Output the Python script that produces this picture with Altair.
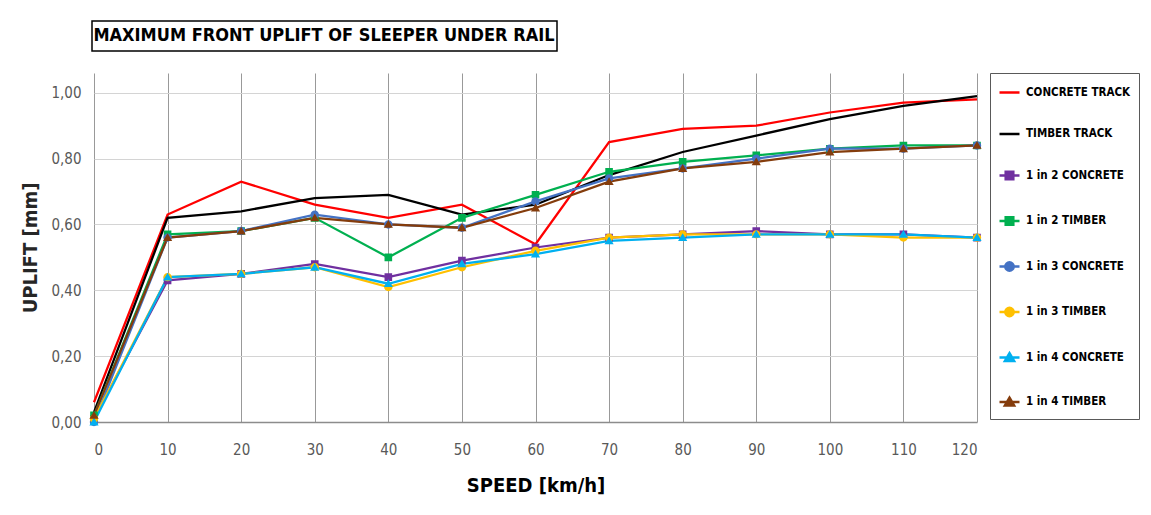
import altair as alt
import pandas as pd

# ---------------- data ----------------
speeds = [0, 10, 20, 30, 40, 50, 60, 70, 80, 90, 100, 110, 120]

series_names = [
    "CONCRETE TRACK", "TIMBER TRACK",
    "1 in 2 CONCRETE", "1 in 2 TIMBER",
    "1 in 3 CONCRETE", "1 in 3 TIMBER",
    "1 in 4 CONCRETE", "1 in 4 TIMBER",
]

concrete_track = [0.06, 0.63, 0.73, 0.66, 0.62, 0.66, 0.54, 0.85, 0.89, 0.90, 0.94, 0.97, 0.98]
timber_track = [0.03, 0.62, 0.64, 0.68, 0.69, 0.63, 0.66, 0.75, 0.82, 0.87, 0.92, 0.96, 0.99]
one_in_2_concrete = [0.01, 0.43, 0.45, 0.48, 0.44, 0.49, 0.53, 0.56, 0.57, 0.58, 0.57, 0.57, 0.56]
one_in_2_timber = [0.02, 0.57, 0.58, 0.62, 0.50, 0.62, 0.69, 0.76, 0.79, 0.81, 0.83, 0.84, 0.84]
one_in_3_concrete = [0.00, 0.56, 0.58, 0.63, 0.60, 0.59, 0.67, 0.74, 0.77, 0.80, 0.83, 0.83, 0.84]
one_in_3_timber = [0.01, 0.44, 0.45, 0.47, 0.41, 0.47, 0.52, 0.56, 0.57, 0.57, 0.57, 0.56, 0.56]
one_in_4_concrete = [0.00, 0.44, 0.45, 0.47, 0.42, 0.48, 0.51, 0.55, 0.56, 0.57, 0.57, 0.57, 0.56]
one_in_4_timber = [0.02, 0.56, 0.58, 0.62, 0.60, 0.59, 0.65, 0.73, 0.77, 0.79, 0.82, 0.83, 0.84]

series_values = [
    concrete_track, timber_track,
    one_in_2_concrete, one_in_2_timber,
    one_in_3_concrete, one_in_3_timber,
    one_in_4_concrete, one_in_4_timber,
]

y_ticks = [0.0, 0.2, 0.4, 0.6, 0.8, 1.0]
chart_title = "MAXIMUM FRONT UPLIFT OF SLEEPER UNDER RAIL"
x_title = "SPEED [km/h]"
y_title = "UPLIFT [mm]"

# ---------------- styles ----------------
colors = ["#FF0000", "#000000", "#7030A0", "#00B050",
          "#4472C4", "#FFC000", "#00B0F0", "#843C0C"]
marker_kinds = ["none", "none", "square", "square",
                "circle", "circle", "triangle", "triangle"]
LINE = "M-1,0H1"
paths = {
    "none": LINE,
    "square": LINE + "M-0.38,-0.38H0.38V0.38H-0.38Z",
    "circle": LINE + "M-0.42,0A0.42,0.42,0,1,0,0.42,0A0.42,0.42,0,1,0,-0.42,0Z",
    "triangle": LINE + "M0,-0.44L0.46,0.34L-0.46,0.34Z",
}
shapes = [paths[k] for k in marker_kinds]
marker_series = [n for n, k in zip(series_names, marker_kinds) if k != "none"]

FONT = "DejaVu Sans Condensed, Liberation Sans Narrow, Liberation Sans, sans-serif"

rows = []
for name, vals in zip(series_names, series_values):
    for s, v in zip(speeds, vals):
        rows.append({"series": name, "speed": s, "uplift": v})
df = pd.DataFrame(rows)

color_scale = alt.Scale(domain=series_names, range=colors)
shape_scale = alt.Scale(domain=series_names, range=shapes)

legend = alt.Legend(
    title=None, orient="none", legendX=896, legendY=0,
    padding=8, strokeColor="#595959", fillColor="white",
    labelFont=FONT, labelFontSize=11.5, labelFontWeight="bold", labelColor="black",
    labelOffset=5, symbolSize=400, symbolStrokeWidth=2.5, rowPadding=24.5,
    symbolOpacity=1, labelLimit=200,
)

x_enc = alt.X(
    "speed:Q",
    scale=alt.Scale(domain=[0, 120], nice=False, zero=False),
    axis=alt.Axis(
        values=speeds, title=x_title, grid=True, gridColor="#999999", gridWidth=1,
        domainColor="#8c8c8c", domainWidth=1.5, ticks=False,
        labelColor="#595959", labelFont=FONT, labelFontSize=15, labelPadding=20,
        titleFont=FONT, titleFontSize=20, titleFontWeight="bold", titleColor="black",
        titlePadding=18,
    ),
)
y_enc = alt.Y(
    "uplift:Q",
    scale=alt.Scale(domain=[0, 1.06], nice=False),
    axis=alt.Axis(
        values=y_ticks, title=y_title, grid=True, gridColor="#d4d4d4", gridWidth=1,
        domain=False, ticks=False,
        labelExpr="replace(format(datum.value, '.2f'), '.', ',')",
        labelColor="#595959", labelFont=FONT, labelFontSize=15, labelPadding=13,
        titleFont=FONT, titleFontSize=20, titleFontWeight="bold", titleColor="#262626",
        titlePadding=10,
    ),
)

lines = alt.Chart(df).mark_line(strokeWidth=2.25).encode(
    x=x_enc, y=y_enc,
    color=alt.Color("series:N", scale=color_scale, legend=legend, sort=series_names),
)

points = alt.Chart(df).transform_filter(
    alt.FieldOneOfPredicate(field="series", oneOf=marker_series)
).mark_point(filled=True, opacity=1, size=400).encode(
    x=x_enc, y=y_enc,
    color=alt.Color("series:N", scale=color_scale, legend=legend, sort=series_names),
    stroke=alt.Stroke("series:N", scale=color_scale, legend=legend, sort=series_names),
    shape=alt.Shape("series:N", scale=shape_scale, legend=legend, sort=series_names),
    strokeWidth=alt.value(0),
)

title_df = pd.DataFrame({"label": [chart_title]})
title_box = alt.Chart(title_df).mark_rect(fill="white", stroke="black", strokeWidth=1.5).encode(
    x=alt.value(-2), x2=alt.value(463), y=alt.value(-52), y2=alt.value(-22)
)
title_text = alt.Chart(title_df).mark_text(
    font=FONT, fontSize=18, fontWeight="bold", color="black",
    align="center", baseline="middle",
).encode(x=alt.value(230), y=alt.value(-37), text="label:N")

chart = alt.layer(title_box, title_text, lines, points).properties(
    width=883, height=349,
    padding={"left": 12, "top": 12, "right": 0, "bottom": 2},
).configure_view(stroke=None)

chart.save("out.html", embed_options={"renderer": "svg", "actions": False})
